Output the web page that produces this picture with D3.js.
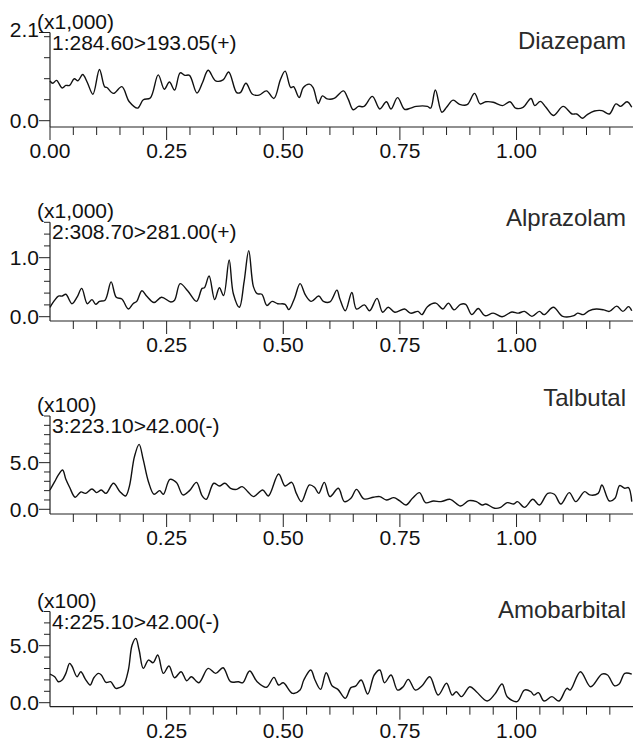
<!DOCTYPE html>
<html>
<head>
<meta charset="utf-8">
<script src="https://cdn.jsdelivr.net/npm/d3@7"></script>
<style>
  html, body { margin: 0; padding: 0; background: #fff; }
  svg { display: block; }
  text { font-family: "Liberation Sans", Arial, sans-serif; fill: #111; }
</style>
</head>
<body>
<svg id="chart" width="633" height="741"></svg>
<script>
// ---------------- DATA ----------------
const compoundNames = ["Diazepam", "Alprazolam", "Talbutal", "Amobarbital"];
const transitionLabels = ["1:284.60>193.05(+)", "2:308.70>281.00(+)", "3:223.10>42.00(-)", "4:225.10>42.00(-)"];
const multiplierLabels = ["(x1,000)", "(x1,000)", "(x100)", "(x100)"];
const xTickValues = [0.00, 0.25, 0.50, 0.75, 1.00];

const diazepamTime = [0.000,0.006,0.014,0.026,0.034,0.042,0.052,0.060,0.070,0.080,0.092,0.106,0.117,0.122,0.136,0.154,0.170,0.188,0.200,0.215,0.232,0.245,0.256,0.267,0.279,0.289,0.299,0.315,0.327,0.339,0.355,0.371,0.383,0.400,0.408,0.420,0.434,0.448,0.464,0.480,0.494,0.504,0.516,0.522,0.534,0.543,0.556,0.564,0.575,0.584,0.594,0.609,0.629,0.639,0.650,0.661,0.673,0.691,0.707,0.721,0.731,0.745,0.760,0.773,0.785,0.809,0.816,0.826,0.840,0.850,0.864,0.878,0.894,0.910,0.922,0.934,0.950,0.970,0.986,0.998,1.014,1.031,1.039,1.051,1.063,1.079,1.100,1.119,1.129,1.141,1.151,1.167,1.183,1.199,1.213,1.223,1.237,1.247];
const diazepamIntensity = [0.945,0.89,0.96,0.78,0.84,0.84,1.00,0.95,1.10,0.91,0.63,1.22,0.81,0.79,0.65,0.81,0.45,0.30,0.50,0.54,1.09,0.75,0.92,0.73,1.14,1.08,1.08,0.66,0.91,1.20,0.95,0.97,1.16,0.67,0.67,0.89,0.63,0.61,0.71,0.53,0.98,1.18,0.79,0.81,0.55,0.79,0.87,0.79,0.41,0.59,0.52,0.53,0.71,0.52,0.26,0.34,0.34,0.58,0.28,0.45,0.28,0.55,0.27,0.30,0.34,0.34,0.30,0.73,0.20,0.32,0.49,0.39,0.38,0.65,0.40,0.45,0.44,0.36,0.45,0.30,0.32,0.53,0.36,0.46,0.32,0.125,0.34,0.16,0.16,0.06,0.14,0.23,0.24,0.16,0.40,0.34,0.45,0.32];

const alprazolamTime = [0.000,0.010,0.018,0.026,0.034,0.047,0.058,0.068,0.080,0.090,0.098,0.106,0.118,0.131,0.142,0.154,0.168,0.178,0.186,0.197,0.207,0.223,0.239,0.259,0.267,0.279,0.295,0.314,0.326,0.331,0.341,0.353,0.363,0.372,0.384,0.393,0.406,0.416,0.426,0.436,0.444,0.454,0.465,0.476,0.488,0.504,0.512,0.524,0.536,0.548,0.560,0.576,0.586,0.600,0.615,0.621,0.633,0.647,0.657,0.674,0.685,0.701,0.713,0.725,0.739,0.760,0.773,0.789,0.797,0.809,0.827,0.842,0.854,0.866,0.880,0.891,0.904,0.918,0.932,0.950,0.969,0.990,1.004,1.017,1.033,1.049,1.059,1.079,1.099,1.123,1.131,1.143,1.155,1.171,1.187,1.199,1.215,1.228,1.240,1.247];
const alprazolamIntensity = [0.16,0.28,0.35,0.35,0.38,0.22,0.33,0.48,0.22,0.29,0.21,0.26,0.28,0.59,0.33,0.30,0.13,0.22,0.26,0.44,0.35,0.24,0.33,0.25,0.28,0.56,0.44,0.26,0.48,0.49,0.69,0.29,0.49,0.36,0.96,0.39,0.16,0.59,1.12,0.51,0.39,0.38,0.19,0.26,0.22,0.21,0.12,0.31,0.56,0.36,0.26,0.35,0.26,0.25,0.45,0.31,0.10,0.41,0.13,0.20,0.10,0.31,0.075,0.16,0.075,0.13,0.06,0.09,0.035,0.17,0.23,0.13,0.23,0.115,0.21,0.21,0.035,0.14,0.017,0.06,0.0,0.08,0.06,0.09,0.006,0.09,0.035,0.16,0.006,0.017,0.06,0.035,0.10,0.13,0.115,0.09,0.18,0.09,0.17,0.10];

const talbutalTime = [0.000,0.010,0.018,0.027,0.034,0.042,0.054,0.066,0.076,0.090,0.100,0.110,0.120,0.136,0.150,0.162,0.170,0.181,0.191,0.200,0.211,0.223,0.235,0.243,0.257,0.271,0.285,0.299,0.314,0.326,0.335,0.351,0.363,0.375,0.387,0.400,0.412,0.424,0.436,0.456,0.468,0.490,0.504,0.518,0.528,0.539,0.556,0.567,0.576,0.588,0.600,0.618,0.631,0.645,0.657,0.673,0.693,0.707,0.721,0.737,0.749,0.763,0.777,0.792,0.805,0.822,0.838,0.858,0.880,0.898,0.914,0.926,0.934,0.953,0.966,0.980,0.994,1.002,1.017,1.035,1.049,1.067,1.081,1.095,1.113,1.127,1.146,1.157,1.175,1.183,1.199,1.211,1.221,1.232,1.240,1.247];
const talbutalIntensity = [2.07,2.96,3.68,4.21,3.21,2.36,1.29,1.86,1.71,2.18,1.79,2.07,1.71,2.79,1.89,1.43,2.43,5.64,6.96,5.29,2.96,1.61,2.00,1.61,3.21,2.86,1.54,2.00,2.89,1.46,1.07,2.79,2.50,2.79,2.25,2.14,2.43,1.89,1.36,2.07,1.43,3.79,2.50,2.89,1.71,0.82,2.61,2.36,1.71,2.89,1.36,2.25,0.82,1.18,2.14,1.11,1.29,1.36,1.00,1.25,0.93,0.46,1.18,1.79,0.71,0.89,0.82,1.07,0.36,0.93,0.82,0.46,0.57,0.11,0.21,0.71,0.57,0.82,0.21,1.07,0.46,1.71,1.61,0.57,1.79,0.82,1.89,1.54,1.71,2.61,0.89,1.18,2.54,2.25,2.32,0.82];

const amobarbitalTime = [0.000,0.010,0.018,0.026,0.034,0.042,0.047,0.058,0.066,0.076,0.086,0.094,0.104,0.110,0.120,0.130,0.141,0.150,0.158,0.168,0.176,0.184,0.191,0.200,0.211,0.221,0.231,0.243,0.255,0.267,0.281,0.293,0.303,0.319,0.339,0.355,0.371,0.387,0.404,0.413,0.428,0.444,0.464,0.480,0.490,0.500,0.520,0.536,0.544,0.559,0.568,0.580,0.592,0.605,0.617,0.633,0.645,0.655,0.667,0.681,0.695,0.707,0.717,0.731,0.745,0.757,0.768,0.783,0.797,0.814,0.832,0.850,0.862,0.871,0.882,0.900,0.914,0.937,0.953,0.969,0.980,1.001,1.017,1.031,1.037,1.047,1.059,1.076,1.091,1.108,1.115,1.137,1.159,1.183,1.195,1.210,1.220,1.232,1.247];
const amobarbitalIntensity = [2.51,2.28,1.84,1.99,2.57,3.45,3.22,2.28,2.72,2.05,1.55,2.19,2.57,2.43,1.78,1.84,1.26,1.35,1.55,2.87,5.06,5.64,4.62,3.01,3.74,3.51,4.18,2.57,3.22,2.19,2.72,1.93,2.28,1.75,3.01,2.57,3.07,1.84,1.84,1.75,2.78,1.84,1.35,2.22,1.55,1.75,0.82,1.11,1.99,2.87,1.99,1.17,2.63,1.46,1.17,0.38,1.32,1.46,1.99,0.76,2.43,2.87,1.75,2.43,1.11,1.40,2.05,1.11,1.46,2.28,0.67,1.70,0.67,0.96,0.53,1.40,0.96,0.15,0.73,1.64,0.53,0.09,1.11,0.96,0.67,0.88,0.15,0.53,0.15,1.26,1.11,2.72,1.40,2.51,2.43,1.49,1.64,2.57,2.51];

// y-axis ticks per panel (in the panel's multiplier units)
const yTickValues = [
  [0, 0.5, 1.0, 1.5, 2.0, 2.1],
  [0, 0.2, 0.4, 0.6, 0.8, 1.0, 1.2, 1.4, 1.6],
  [0, 1, 2, 3, 4, 5, 6, 7, 8, 9, 10],
  [0, 1, 2, 3, 4, 5, 6, 7, 8]
];
const yLabelValues = [[0.0, 2.1], [0.0, 1.0], [0.0, 5.0], [0.0, 5.0]];

// ---------------- LAYOUT ----------------
const series = [
  { t: diazepamTime, v: diazepamIntensity },
  { t: alprazolamTime, v: alprazolamIntensity },
  { t: talbutalTime, v: talbutalIntensity },
  { t: amobarbitalTime, v: amobarbitalIntensity }
];
const geo = [
  { top: 32.5, zero: 120.7, axis: 127, yMax: 2.1, showZeroX: true, titleDy: 16 },
  { top: 222.3, zero: 316.7, axis: 321, yMax: 1.6, showZeroX: false, titleDy: 4 },
  { top: 416.0, zero: 509.3, axis: 514, yMax: 10, showZeroX: false, titleDy: -10 },
  { top: 611.5, zero: 702.7, axis: 706.7, yMax: 8, showZeroX: false, titleDy: 6 }
];

const svg = d3.select("#chart");
const left = 50, right = 632;
const x = d3.scaleLinear().domain([0, 1.2475]).range([left, right]);
const fontSize = 21;

geo.forEach((g, i) => {
  const yMin = -(g.axis - g.zero) / (g.zero - g.top) * g.yMax;
  const y = d3.scaleLinear().domain([yMin, g.yMax]).range([g.axis, g.top]);
  const gp = svg.append("g");

  gp.append("line").attr("x1", left).attr("x2", right + 1).attr("y1", g.axis).attr("y2", g.axis)
    .attr("stroke", "#222").attr("stroke-width", 1.2);
  gp.append("line").attr("x1", left).attr("x2", left).attr("y1", g.top).attr("y2", g.axis)
    .attr("stroke", "#222").attr("stroke-width", 1.2);

  const minor = d3.range(0, 1.2476, 0.05).map(d => +d.toFixed(2));
  minor.forEach(d => {
    const isMajor = Math.abs(d / 0.25 - Math.round(d / 0.25)) < 1e-6;
    if (d === 0 && !g.showZeroX) return;
    gp.append("line").attr("x1", x(d)).attr("x2", x(d)).attr("y1", g.axis)
      .attr("y2", g.axis + (isMajor ? 13 : 8)).attr("stroke", "#222").attr("stroke-width", 1);
  });
  xTickValues.forEach(d => {
    if (d === 0 && !g.showZeroX) return;
    gp.append("text").attr("x", x(d)).attr("y", g.axis + 31).attr("text-anchor", "middle")
      .attr("font-size", fontSize).text(d3.format(".2f")(d));
  });

  yTickValues[i].forEach(d => {
    const isLab = yLabelValues[i].some(v => Math.abs(v - d) < 1e-9);
    gp.append("line").attr("x1", left - (isLab ? 11 : 6)).attr("x2", left).attr("y1", y(d)).attr("y2", y(d))
      .attr("stroke", "#222").attr("stroke-width", 1);
  });
  yLabelValues[i].forEach(d => {
    const top = Math.abs(d - g.yMax) < 1e-9;
    gp.append("text").attr("x", left - 11).attr("y", y(d) - (top ? 3 : 0)).attr("dy", "0.36em").attr("text-anchor", "end")
      .attr("font-size", fontSize).text(d3.format(".1f")(d));
  });

  gp.append("text").attr("x", 37).attr("y", g.top - 4).attr("font-size", fontSize).text(multiplierLabels[i]);
  gp.append("text").attr("x", 52).attr("y", g.top + 17).attr("font-size", fontSize).text(transitionLabels[i]);
  gp.append("text").attr("x", 626).attr("y", g.top + g.titleDy).attr("text-anchor", "end")
    .attr("font-size", 24).style("fill", "#2a2a2a").text(compoundNames[i]);

  const s = series[i];
  const pts = s.t.map((t, k) => [t, s.v[k]]);
  const line = d3.line().x(d => x(d[0])).y(d => y(d[1])).curve(d3.curveCatmullRom.alpha(0.5));
  gp.append("path").datum(pts).attr("d", line).attr("fill", "none").attr("stroke", "#111")
    .attr("stroke-width", 1.4).attr("stroke-linejoin", "round");
});
</script>
</body>
</html>
